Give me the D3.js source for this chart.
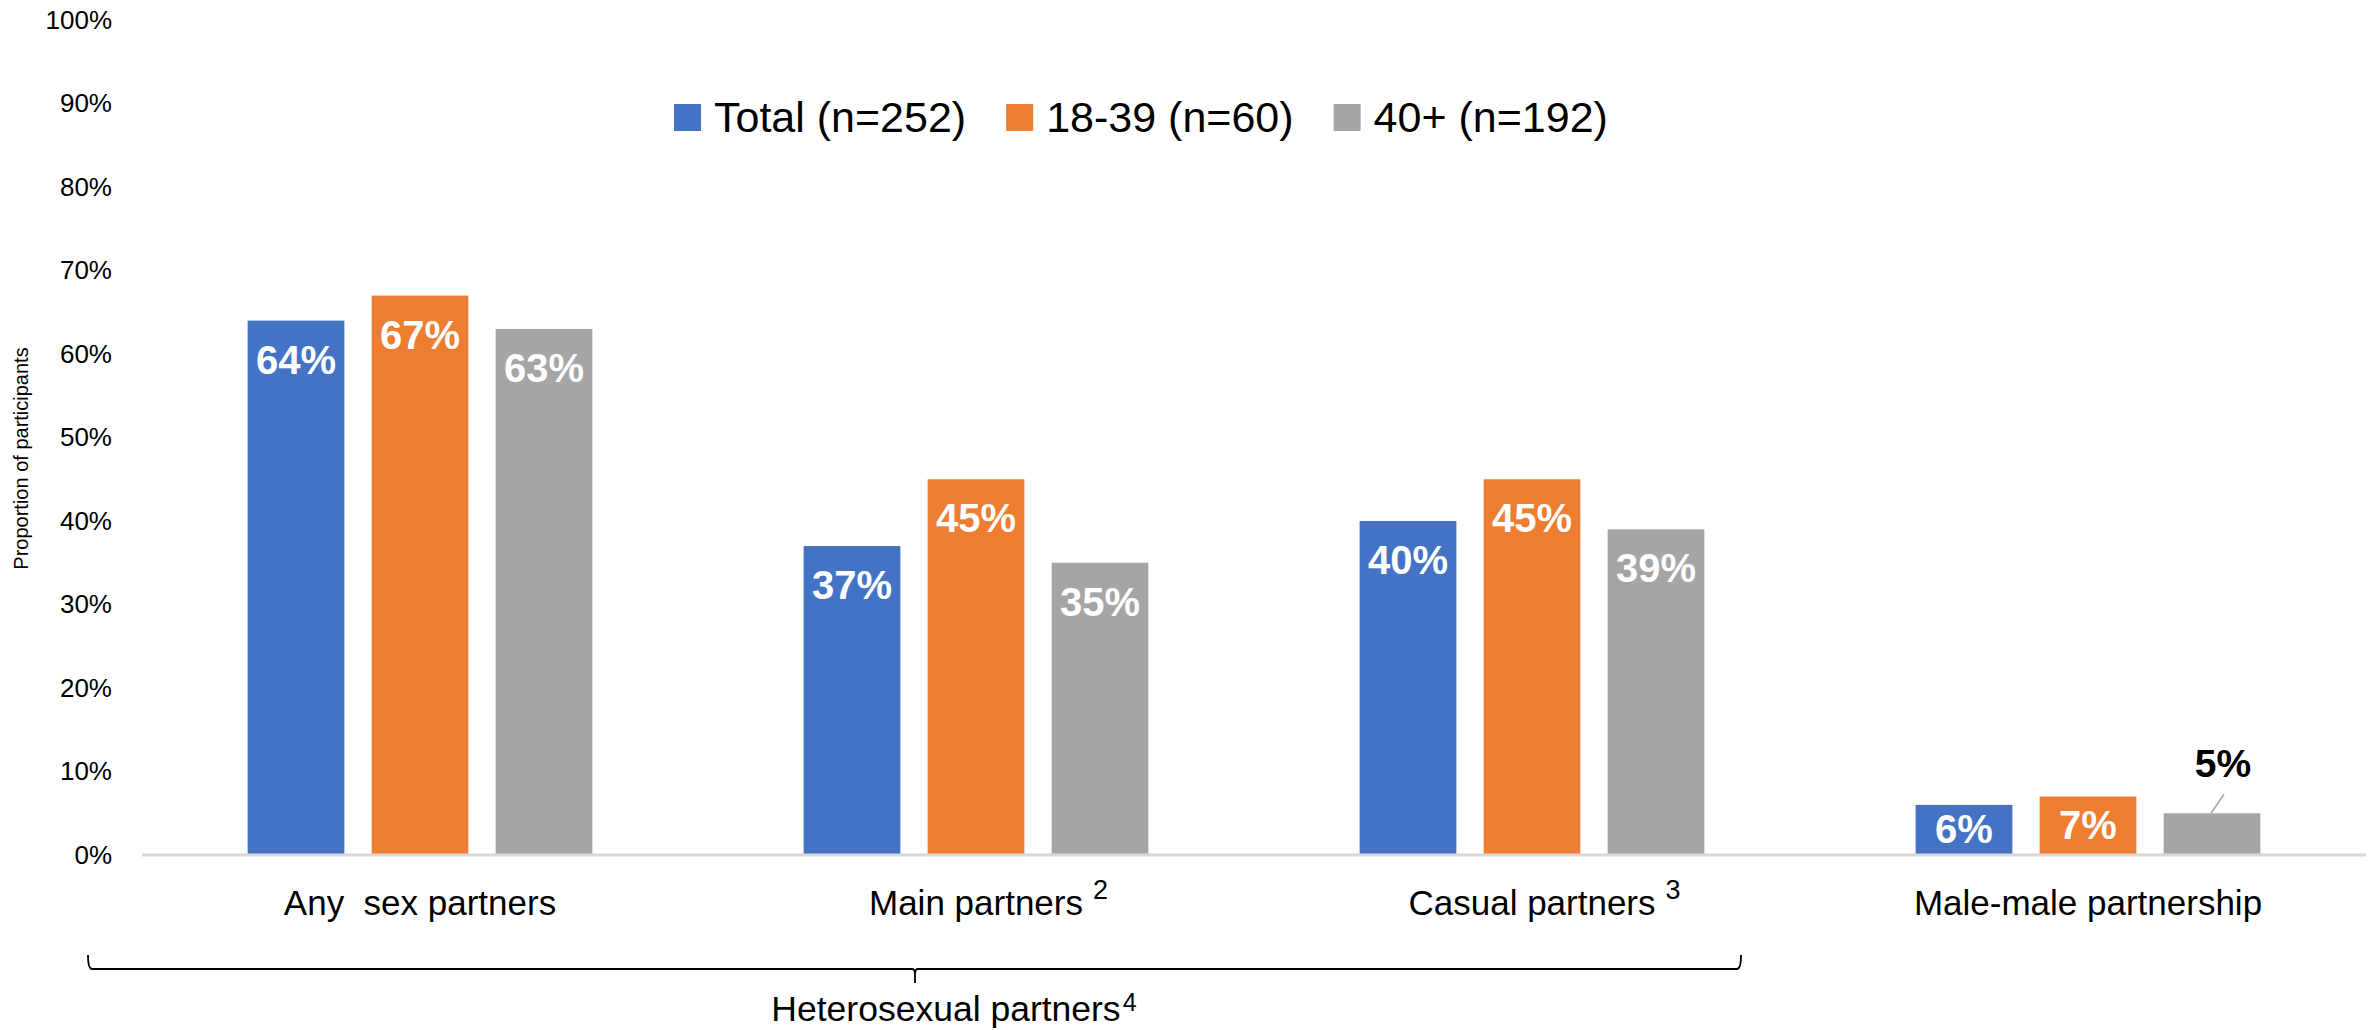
<!DOCTYPE html>
<html>
<head>
<meta charset="utf-8">
<script src="https://cdn.jsdelivr.net/npm/d3@7"></script>
<style>
  html, body { margin: 0; padding: 0; background: #fff; }
  svg { display: block; }
  text { font-family: "Liberation Sans", Arial, sans-serif; }
</style>
</head>
<body>
<svg id="chart" width="2374" height="1030"></svg>
<script>
// ---- data ----
const categories = ["Any  sex partners", "Main partners", "Casual partners", "Male-male partnership"];
const categorySup = ["", "2", "3", ""];
const seriesNames = ["Total (n=252)", "18-39 (n=60)", "40+ (n=192)"];
const seriesColors = ["#4472C4", "#ED7D31", "#A5A5A5"];
const valuesTotal = [64, 37, 40, 6];
const values1839 = [67, 45, 45, 7];
const values40 = [63, 35, 39, 5];
const yTicks = [0, 10, 20, 30, 40, 50, 60, 70, 80, 90, 100];
const groupLabel = "Heterosexual partners";
const groupLabelSup = "4";
const yTitle = "Proportion of participants";
// labels drawn outside (above) the bar with a leader line: [categoryIndex, seriesIndex]
const outsideLabels = [[3, 2]];

const seriesValues = [valuesTotal, values1839, values40];

// ---- layout ----
const plotLeft = 142, plotRight = 2366, plotBottom = 855, plotTop = 20;

const svg = d3.select("#chart");

const y = d3.scaleLinear().domain([0, 100]).range([plotBottom, plotTop]);
const x0 = d3.scaleBand().domain(categories).range([plotLeft, plotRight])
  .paddingInner(0.38).paddingOuter(0.19);
const x1 = d3.scaleBand().domain(seriesNames).range([0, x0.bandwidth()])
  .paddingInner(0.22).paddingOuter(0);

// y axis labels
const yAxis = d3.axisLeft(y).tickValues(yTicks).tickSize(0).tickPadding(30)
  .tickFormat(d => d + "%");
const gy = svg.append("g").attr("transform", `translate(${plotLeft},0)`).call(yAxis);
gy.select(".domain").remove();
gy.selectAll("text").attr("font-size", 26).attr("fill", "#000")
  .attr("font-family", '"Liberation Sans", Arial, sans-serif');

// y title
svg.append("text")
  .attr("transform", `translate(21,${(plotTop + plotBottom) / 2 + 21}) rotate(-90)`)
  .attr("text-anchor", "middle").attr("dy", "0.35em")
  .attr("font-size", 20).attr("fill", "#000")
  .text(yTitle);

// bars
const flat = [];
categories.forEach((c, ci) => {
  seriesNames.forEach((s, si) => {
    flat.push({ c, ci, s, si, v: seriesValues[si][ci] });
  });
});

svg.append("g").selectAll("rect").data(flat).join("rect")
  .attr("x", d => x0(d.c) + x1(d.s))
  .attr("y", d => y(d.v))
  .attr("width", x1.bandwidth())
  .attr("height", d => y(0) - y(d.v))
  .attr("fill", d => seriesColors[d.si]);

// baseline
svg.append("line")
  .attr("x1", plotLeft).attr("x2", plotRight)
  .attr("y1", y(0)).attr("y2", y(0))
  .attr("stroke", "#D9D9D9").attr("stroke-width", 3);

// data labels
const isOutside = d => outsideLabels.some(o => o[0] === d.ci && o[1] === d.si);
const lbl = svg.append("g");
flat.forEach(d => {
  const cx = x0(d.c) + x1(d.s) + x1.bandwidth() / 2;
  const top = y(d.v), bot = y(0);
  if (isOutside(d)) {
    lbl.append("line")
      .attr("x1", cx + 12).attr("y1", top - 19)
      .attr("x2", cx - 1).attr("y2", top)
      .attr("stroke", "#A5A5A5").attr("stroke-width", 1.5);
    lbl.append("text")
      .attr("x", cx + 11).attr("y", top - 36)
      .attr("text-anchor", "middle").attr("font-size", 39).attr("font-weight", "bold")
      .attr("fill", "#000").text(d.v + "%");
  } else {
    const h = bot - top;
    const base = h > 110 ? top + 53 : (top + bot) / 2 + 13;
    lbl.append("text")
      .attr("x", cx).attr("y", base)
      .attr("text-anchor", "middle").attr("font-size", 40).attr("font-weight", "bold")
      .attr("fill", "#fff").text(d.v + "%");
  }
});

// x category labels
categories.forEach((c, i) => {
  const cx = x0(c) + x0.bandwidth() / 2;
  const t = svg.append("text").attr("y", 915).attr("font-size", 35).attr("fill", "#000")
    .style("white-space", "pre");
  const main = t.append("tspan").text(c);
  const w = main.node().getComputedTextLength();
  t.attr("x", cx - w / 2);
  if (categorySup[i]) {
    t.append("tspan").attr("dx", 10).attr("dy", -16).attr("font-size", 27).text(categorySup[i]);
  }
});

// brace for heterosexual group
const braceL = 88, braceR = 1741, braceY = 969, braceTop = 955, braceMid = 915;
svg.append("path")
  .attr("d", `M${braceL},${braceTop} Q${braceL},${braceY} ${braceL + 4},${braceY} L${braceMid - 3},${braceY} Q${braceMid},${braceY} ${braceMid},${braceY + 5} L${braceMid},${braceY + 14} M${braceMid},${braceY + 5} Q${braceMid},${braceY} ${braceMid + 3},${braceY} L${braceR - 4},${braceY} Q${braceR},${braceY} ${braceR},${braceTop}`)
  .attr("fill", "none").attr("stroke", "#000").attr("stroke-width", 1.8);

// group label
{
  const t = svg.append("text").attr("y", 1021).attr("font-size", 35.5).attr("fill", "#000");
  const main = t.append("tspan").text(groupLabel);
  const w = main.node().getComputedTextLength();
  t.attr("x", 946 - w / 2);
  t.append("tspan").attr("dx", 2).attr("dy", -10).attr("font-size", 25).text(groupLabelSup);
}

// legend
{
  const lg = svg.append("g");
  let lx = 674;
  const ly = 132;
  seriesNames.forEach((s, i) => {
    lg.append("rect").attr("x", lx).attr("y", ly - 28).attr("width", 27).attr("height", 27)
      .attr("fill", seriesColors[i]);
    const t = lg.append("text").attr("x", lx + 40).attr("y", ly).attr("font-size", 43)
      .attr("fill", "#000").text(s);
    lx += 40 + t.node().getComputedTextLength() + 40;
  });
}
</script>
</body>
</html>
